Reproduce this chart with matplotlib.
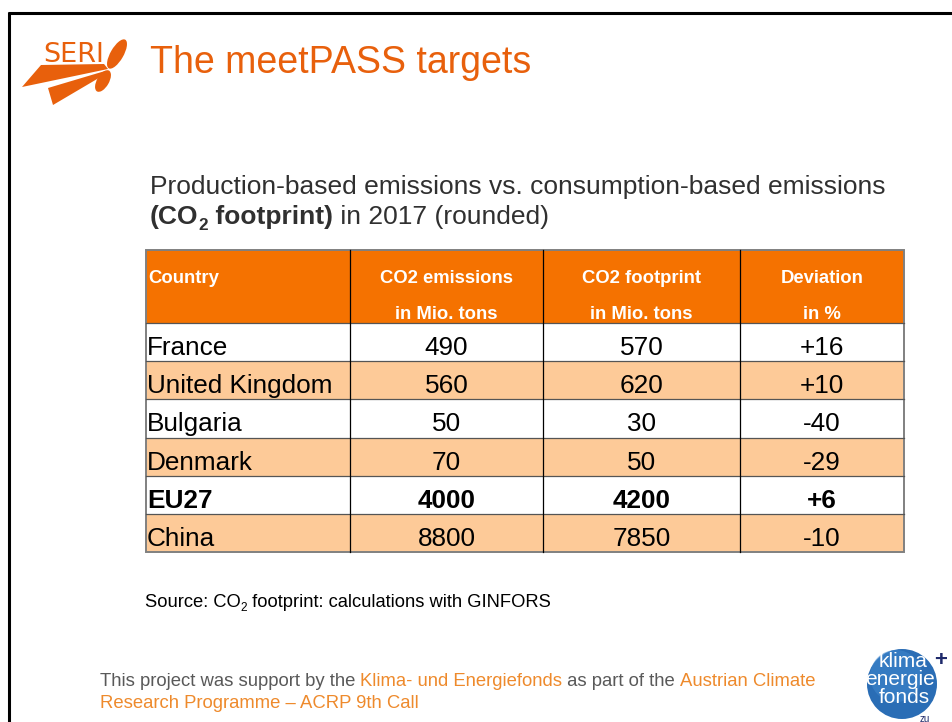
import matplotlib
matplotlib.use("Agg")
import matplotlib.pyplot as plt
from matplotlib.patches import Rectangle, Polygon, Ellipse, Circle

plt.rcParams['font.family'] = ['Liberation Sans', 'DejaVu Sans']

# ---------------- data ----------------
title = "The meetPASS targets"
header_top = ["Country", "CO2 emissions", "CO2 footprint", "Deviation"]
header_bottom = ["", "in Mio. tons", "in Mio. tons", "in %"]
countries = ["France", "United Kingdom", "Bulgaria", "Denmark", "EU27", "China"]
co2_emissions = [490, 560, 50, 70, 4000, 8800]
co2_footprint = [570, 620, 30, 50, 4200, 7850]
deviation = [16, 10, -40, -29, 6, -10]
bold_rows = ["EU27"]

W, H = 953, 722
fig = plt.figure(figsize=(W / 100, H / 100), dpi=100)
ax = fig.add_axes([0, 0, 1, 1])
ax.set_xlim(0, W)
ax.set_ylim(H, 0)
ax.axis('off')
fig.patch.set_facecolor('white')
renderer = fig.canvas.get_renderer()

ORANGE_T = "#E8600C"
HEAD = "#F57200"
LIGHT = "#FDCA98"
FOOT_OR = "#EE8A2C"
GREY = "#595959"
DARK = "#303030"


def text_w(s, size, weight='normal'):
    t = ax.text(0, 0, s + "|", fontsize=size, fontweight=weight)
    t2 = ax.text(0, 0, "|", fontsize=size, fontweight=weight)
    w = t.get_window_extent(renderer).width - t2.get_window_extent(renderer).width
    t.remove(); t2.remove()
    return w


def rich(x, y, parts, size):
    """parts: list of (text, color, weight, sub)"""
    for s, c, wgt, sub in parts:
        sz = size * 0.65 if sub else size
        yy = y + size * 1.39 * 0.22 if sub else y
        ax.text(x, yy, s, fontsize=sz, color=c, fontweight=wgt, va='baseline', ha='left')
        x += text_w(s, sz, wgt)
    return x


# ---------------- slide border ----------------
ax.plot([8, W], [12.5, 12.5], color='black', lw=2.2, solid_capstyle='butt')
ax.plot([9.5, 9.5], [12, H], color='black', lw=2.2, solid_capstyle='butt')

# ---------------- SERI logo ----------------
ax.text(43, 62, "SERI", fontsize=19.5, color=ORANGE_T, fontweight='normal',
        va='baseline', ha='left', family='Liberation Sans Narrow')
ax.add_patch(Polygon([(22, 87), (41, 65), (104, 64), (108, 69)], closed=True, color=ORANGE_T, lw=0))
ax.add_patch(Polygon([(48, 88), (53, 105), (109, 72), (105, 71)], closed=True, color=ORANGE_T, lw=0))
ax.add_patch(Ellipse((117, 54), 13, 33, angle=30, color=ORANGE_T, lw=0))
ax.add_patch(Ellipse((103, 81), 12, 24, angle=30, color=ORANGE_T, lw=0))

# ---------------- title ----------------
ax.text(150, 73, title, fontsize=27, color=ORANGE_T, va='baseline', ha='left')

# ---------------- subtitle ----------------
rich(150, 194, [("Production-based emissions vs. consumption-based emissions", DARK, 'normal', False)], 19)
rich(150, 224, [("(CO", DARK, 'bold', False), ("2", DARK, 'bold', True),
                (" footprint)", DARK, 'bold', False), (" in 2017 (rounded)", DARK, 'normal', False)], 19)

# ---------------- table ----------------
col_edges = [146, 350, 543, 740, 904]
head_top, head_bot = 250, 323
row_h = (552 - head_bot) / len(countries)

ax.add_patch(Rectangle((col_edges[0], head_top), col_edges[-1] - col_edges[0], head_bot - head_top,
                       facecolor=HEAD, edgecolor='none'))
for i, name in enumerate(countries):
    top = head_bot + i * row_h
    fc = LIGHT if i % 2 == 1 else 'white'
    ax.add_patch(Rectangle((col_edges[0], top), col_edges[-1] - col_edges[0], row_h,
                           facecolor=fc, edgecolor='none'))

# header text
for j in range(4):
    if j == 0:
        ax.text(col_edges[0] + 2, 283, header_top[j], fontsize=13.3, color='white',
                fontweight='bold', ha='left', va='baseline')
    else:
        cx = (col_edges[j] + col_edges[j + 1]) / 2
        ax.text(cx, 283, header_top[j], fontsize=13.3, color='white', fontweight='bold',
                ha='center', va='baseline')
        ax.text(cx, 319, header_bottom[j], fontsize=13.3, color='white', fontweight='bold',
                ha='center', va='baseline')

# body
for i, name in enumerate(countries):
    top = head_bot + i * row_h
    base = top + 32
    wgt = 'bold' if name in bold_rows else 'normal'
    ax.text(col_edges[0] + 1, base, name, fontsize=18.8, color='black', fontweight=wgt,
            ha='left', va='baseline')
    vals = [str(co2_emissions[i]), str(co2_footprint[i]),
            ("+%d" % deviation[i]) if deviation[i] > 0 else str(deviation[i])]
    for j, v in enumerate(vals):
        cx = (col_edges[j + 1] + col_edges[j + 2]) / 2
        ax.text(cx, base, v, fontsize=18.8, color='black', fontweight=wgt,
                ha='center', va='baseline')

# grid lines
for i in range(1, len(countries)):
    y = head_bot + i * row_h
    ax.plot([col_edges[0], col_edges[-1]], [y, y], color='#555555', lw=0.9)
ax.plot([col_edges[0], col_edges[-1]], [head_bot, head_bot], color='#555555', lw=0.9)
for x in col_edges[1:-1]:
    ax.plot([x, x], [head_top, 552], color='black', lw=0.9)
ax.add_patch(Rectangle((col_edges[0], head_top), col_edges[-1] - col_edges[0], 552 - head_top,
                       facecolor='none', edgecolor='#808080', lw=1.4))

# ---------------- source ----------------
rich(145, 607, [("Source: CO", 'black', 'normal', False), ("2", 'black', 'normal', True),
                (" footprint: calculations with GINFORS", 'black', 'normal', False)], 13.2)

# ---------------- footer ----------------
rich(100, 686, [("This project was support by the ", GREY, 'normal', False),
                ("Klima- und Energiefonds", FOOT_OR, 'normal', False),
                (" as part of the ", GREY, 'normal', False),
                ("Austrian Climate", FOOT_OR, 'normal', False)], 13.3)
rich(100, 708, [("Research Programme \u2013 ACRP 9th Call", FOOT_OR, 'normal', False)], 13.3)

# ---------------- klima logo ----------------
ax.add_patch(Circle((902, 684), 35, color='#2A6DB5', lw=0))
ax.add_patch(Circle((896, 676), 26, color='#3D85CC', lw=0, alpha=0.6))
ax.text(903, 667, "klima", fontsize=15, color='white', ha='center', va='baseline')
ax.text(900, 685, "energie", fontsize=15, color='white', ha='center', va='baseline')
ax.text(904, 703, "fonds", fontsize=15, color='white', ha='center', va='baseline')
ax.text(941, 666, "+", fontsize=16, color='#1F2A6B', ha='center', va='baseline', fontweight='bold')
ax.text(925, 721.5, "zu", fontsize=7, color='#1F2A6B', ha='center', va='baseline')

fig.savefig("out.png", dpi=100, facecolor='white')
